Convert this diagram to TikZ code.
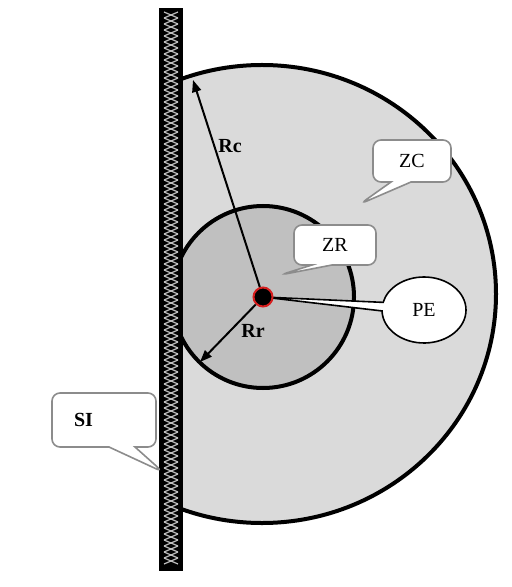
\documentclass[tikz,border=0pt]{standalone}
\usepackage{fontspec}
\setmainfont{Liberation Serif}
\usetikzlibrary{arrows.meta,shapes.geometric,shapes.callouts}
\definecolor{zcgray}{RGB}{218,218,218}
\definecolor{zrgray}{RGB}{192,192,192}
\definecolor{tagline}{RGB}{140,140,140}
\definecolor{hatchgray}{RGB}{190,190,190}
\definecolor{pered}{RGB}{215,30,30}
\tikzset{
  zone/.style={draw=black,line width=2pt},
  tag/.style={rectangle callout,draw=tagline,fill=white,rounded corners=4pt,
              line width=0.8pt,font=\fontsize{10}{12}\selectfont,
              minimum width=40pt,minimum height=20pt,inner sep=2pt},
  petag/.style={ellipse callout,draw=black,fill=white,line width=0.8pt,
                font=\fontsize{10}{12}\selectfont,minimum width=42pt,
                minimum height=33pt,inner sep=0pt,callout pointer width=6.5pt},
  rlabel/.style={font=\bfseries\fontsize{10}{12}\selectfont},
  rarrow/.style={-{Triangle[length=6pt,width=4.5pt]},line width=1pt},
}

\begin{document}
\begin{tikzpicture}[x=0.5pt,y=-0.5pt]
    \useasboundingbox (0,0) rectangle (512,587);
    % zones
    \begin{scope}
      \clip (171,0) rectangle (512,587);
      \draw[zone,fill=zcgray] (262,294) ellipse [x radius=234,y radius=229];
      \draw[zone,fill=zrgray] (263,297) circle [radius=91];
    \end{scope}
    % wall
    \fill[black] (159,8) rectangle (183,571);
    \foreach \y in {12,18,...,560}
      \draw[hatchgray,line width=0.6pt] (164,\y) -- (178,\y+6) (178,\y) -- (164,\y+6);
    % callouts
    \coordinate (zctip) at (360,204);
    \coordinate (zrtip) at (280,275);
    \coordinate (sitip) at (163,472);
    \coordinate (petip) at (263,297);
    \node[tag,minimum width=39pt,minimum height=21pt,callout pointer width=10pt,
          callout absolute pointer={(zctip)}] (zc) at (412,161) {ZC};
    \node[tag,minimum width=41pt,callout pointer width=10pt,
          callout absolute pointer={(zrtip)}] (zr) at (335,245) {ZR};
    \node[tag,minimum width=52pt,minimum height=27pt,callout pointer width=13pt,
          callout absolute pointer={(sitip)},font=\bfseries\fontsize{10}{12}\selectfont,
          text width=30pt,align=left] (si) at (104,420) {SI};
    \node[petag,callout absolute pointer={(petip)}] (petxt) at (424,310) {PE};
    % point
    \node[circle,fill=black,draw=pered,line width=1pt,minimum size=9.5pt,inner sep=0pt] (pe) at (263,297) {};
    % radii
    \coordinate (rctip) at (193,80);
    \coordinate (rrtip) at (200,362);
    \draw[rarrow] (pe) -- (rctip);
    \draw[rarrow] (pe) -- (rrtip);
    \node[rlabel] (rc) at (230,146) {Rc};
    \node[rlabel] (rr) at (253,331) {Rr};
\end{tikzpicture}
\end{document}
